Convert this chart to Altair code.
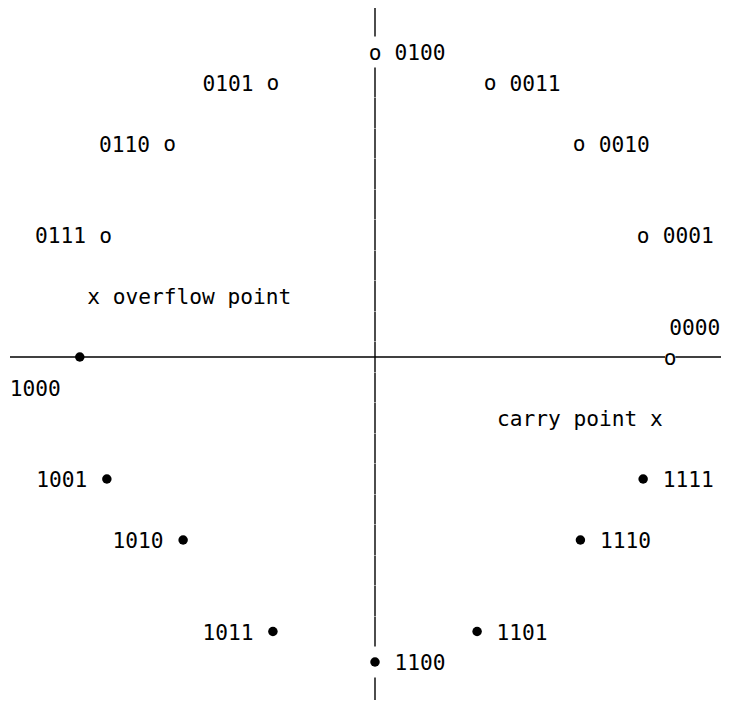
import altair as alt
import pandas as pd

# 4-bit two's complement number wheel
CODES = ["0000", "0001", "0010", "0011", "0100", "0101", "0110", "0111",
         "1000", "1001", "1010", "1011", "1100", "1101", "1110", "1111"]
# horizontal position in character columns (0 = vertical axis)
COLS = [24.0, 21.8, 16.6, 9.35, 0.0, -8.3, -16.7, -21.9,
        -24.0, -21.8, -15.6, -8.3, 0.0, 8.3, 16.7, 21.8]
# vertical position in text rows (0 = horizontal axis)
ROWS = [0, 4, 7, 9, 10, 9, 7, 4,
        0, -4, -6, -9, -10, -9, -6, -4]
MARKERS = ["o"] * 8 + ["•"] * 8
SIDES = ["above", "right", "right", "right", "right", "left", "left", "left",
         "below", "left", "left", "left", "right", "right", "right", "right"]

ANNOT_TEXT = ["x overflow point", "carry point x"]
ANNOT_COL = [-22.9, 22.9]
ANNOT_ROW = [2, -2]
ANNOT_ALIGN = ["left", "right"]

# rows of the text grid where the vertical axis character '|' appears
AXIS_ROWS = [11, 9, 8, 7, 6, 5, 4, 3, 2, 1, 0, -1, -2, -3, -4, -5, -6, -7, -8, -9, -11]

FONT = "DejaVu Sans Mono"
FS = 21.2
W, H = 713, 692

pts = pd.DataFrame({"code": CODES, "col": COLS, "row": ROWS,
                    "marker": MARKERS, "side": SIDES})
ann = pd.DataFrame({"text": ANNOT_TEXT, "col": ANNOT_COL, "row": ANNOT_ROW,
                    "align": ANNOT_ALIGN})
axis_rows = pd.DataFrame({"row": AXIS_ROWS})

xs = alt.Scale(domain=[-367 / 12.3, (W - 367) / 12.3], nice=False, zero=False)
ys = alt.Scale(domain=[-(H - 349) / 30.5, 349 / 30.5], nice=False, zero=False)

X = alt.X("col:Q", scale=xs, axis=None)
Y = alt.Y("row:Q", scale=ys, axis=None)

vaxis = alt.Chart(axis_rows).transform_calculate(
    col="0", r1="datum.row - 0.495", r2="datum.row + 0.495"
).mark_rule(color="black", strokeWidth=1.4).encode(
    x=X,
    y=alt.Y("r1:Q", scale=ys, axis=None),
    y2="r2:Q",
)

haxis = alt.Chart(axis_rows).transform_filter("datum.row == 0").mark_rule(
    color="black", strokeWidth=1.4
).encode(
    y=Y,
    x=alt.value(2),
    x2=alt.value(W),
)

base = alt.Chart(pts)

# white backing under the hollow markers so the axis line does not run through them
backing = base.transform_filter("datum.marker == 'o'").mark_point(
    shape="circle", filled=True, color="white", size=110, opacity=1
).encode(x=X, y=Y)

hollow = base.transform_filter("datum.marker == 'o'").mark_text(
    font=FONT, fontSize=FS, baseline="middle", align="center", color="black", dy=1.5
).encode(x=X, y=Y, text="marker:N")

solid = base.transform_filter("datum.marker != 'o'").mark_point(
    shape="circle", filled=True, color="black", size=90, opacity=1
).encode(x=X, y=Y)

txt = dict(font=FONT, fontSize=FS, baseline="middle", color="black", dy=2)

lab_right = base.transform_filter("datum.side == 'right'").mark_text(
    align="left", dx=19.5, **txt
).encode(x=X, y=Y, text="code:N")

lab_left = base.transform_filter("datum.side == 'left'").mark_text(
    align="right", dx=-19.5, **txt
).encode(x=X, y=Y, text="code:N")

lab_above = base.transform_filter("datum.side == 'above'").transform_calculate(
    lrow="datum.row + 1"
).mark_text(align="left", dx=-1, **txt).encode(
    x=X, y=alt.Y("lrow:Q", scale=ys, axis=None), text="code:N")

lab_below = base.transform_filter("datum.side == 'below'").transform_calculate(
    lrow="datum.row - 1"
).mark_text(align="right", dx=-19, **txt).encode(
    x=X, y=alt.Y("lrow:Q", scale=ys, axis=None), text="code:N")

ann_left = alt.Chart(ann).transform_filter("datum.align == 'left'").mark_text(
    align="left", dx=-6.2, **txt
).encode(x=X, y=Y, text="text:N")

ann_right = alt.Chart(ann).transform_filter("datum.align == 'right'").mark_text(
    align="right", dx=6.2, **txt
).encode(x=X, y=Y, text="text:N")

chart = alt.layer(
    vaxis, haxis, backing, hollow, solid,
    lab_right, lab_left, lab_above, lab_below, ann_left, ann_right
).properties(
    width=W, height=H,
    autosize=alt.AutoSizeParams(type="none"),
    padding={"left": 0, "top": 0, "right": 0, "bottom": 0},
).configure_view(stroke=None)

chart.save("out.html", embed_options={"renderer": "svg", "actions": False})
